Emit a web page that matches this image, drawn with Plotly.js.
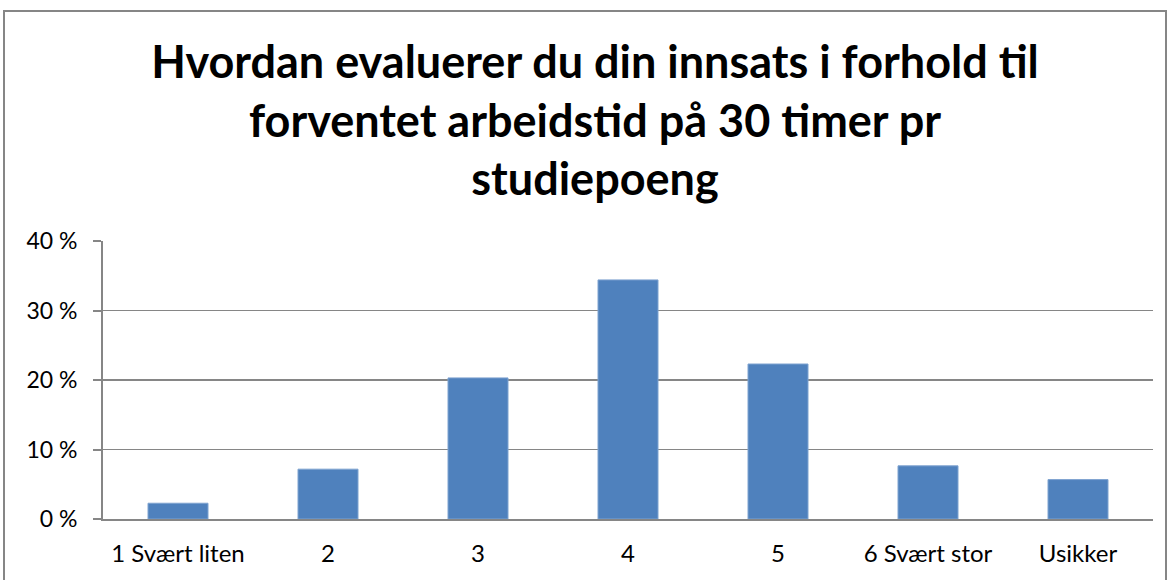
<!DOCTYPE html>
<html>
<head>
<meta charset="utf-8">
<script src="https://cdn.plot.ly/plotly-3.0.1.min.js"></script>
<style>html,body{margin:0;padding:0;background:#fff;}#chart{width:1170px;height:580px;}</style>
</head>
<body>
<div id="chart"></div>
<script>
const categories = ["1 Svært liten", "2", "3", "4", "5", "6 Svært stor", "Usikker"];
const shares = [0.0227, 0.0717, 0.203, 0.344, 0.223, 0.0765, 0.0567];
const yTickValues = [0, 0.1, 0.2, 0.3, 0.4];
const yTickLabels = ["0 %", "10 %", "20 %", "30 %", "40 %"];
const titleText = "Hvordan evaluerer du din innsats i forhold til<br>forventet arbeidstid på 30 timer pr<br>studiepoeng";

const trace = {
  type: "bar",
  x: categories,
  y: shares,
  marker: {color: "#4F81BD", line: {color: "#7FA3D0", width: 1}},
  hoverinfo: "x+y"
};

const gridGrey = "#868686";
const layout = {
  width: 1170, height: 580,
  margin: {l: 103, r: 17, t: 241, b: 61, pad: 0},
  paper_bgcolor: "#ffffff", plot_bgcolor: "#ffffff",
  font: {family: "Lato, 'Open Sans', sans-serif", color: "#000000", size: 24},
  title: {
    text: titleText,
    font: {family: "Lato, sans-serif", size: 45, color: "#000000", weight: "bold"},
    x: 595/1170, xanchor: "center", xref: "container",
    y: 1 - 78/580, yanchor: "top", yref: "container"
  },
  bargap: 0.6,
  showlegend: false,
  xaxis: {
    type: "category",
    showgrid: false,
    showline: true, linecolor: gridGrey, linewidth: 2,
    ticks: "", ticklabelstandoff: 12,
    tickfont: {size: 24},
    fixedrange: true
  },
  yaxis: {
    range: [0, 0.4],
    tickvals: yTickValues, ticktext: yTickLabels,
    showgrid: true, gridcolor: gridGrey, gridwidth: 1.5,
    zeroline: false,
    showline: true, linecolor: gridGrey, linewidth: 2,
    ticks: "outside", ticklen: 8, tickcolor: gridGrey, tickwidth: 2,
    ticklabelstandoff: 11,
    tickfont: {size: 23},
    fixedrange: true
  },
  shapes: [{
    type: "rect", xref: "paper", yref: "paper",
    x0: (4 - 103) / 1050, x1: (1166 - 103) / 1050,
    y0: (519 - 600) / 278, y1: (519 - 11) / 278,
    line: {color: gridGrey, width: 2}, fillcolor: "rgba(0,0,0,0)", layer: "below"
  }]
};

Plotly.newPlot("chart", [trace], layout, {displayModeBar: false, staticPlot: true});
</script>
</body>
</html>
